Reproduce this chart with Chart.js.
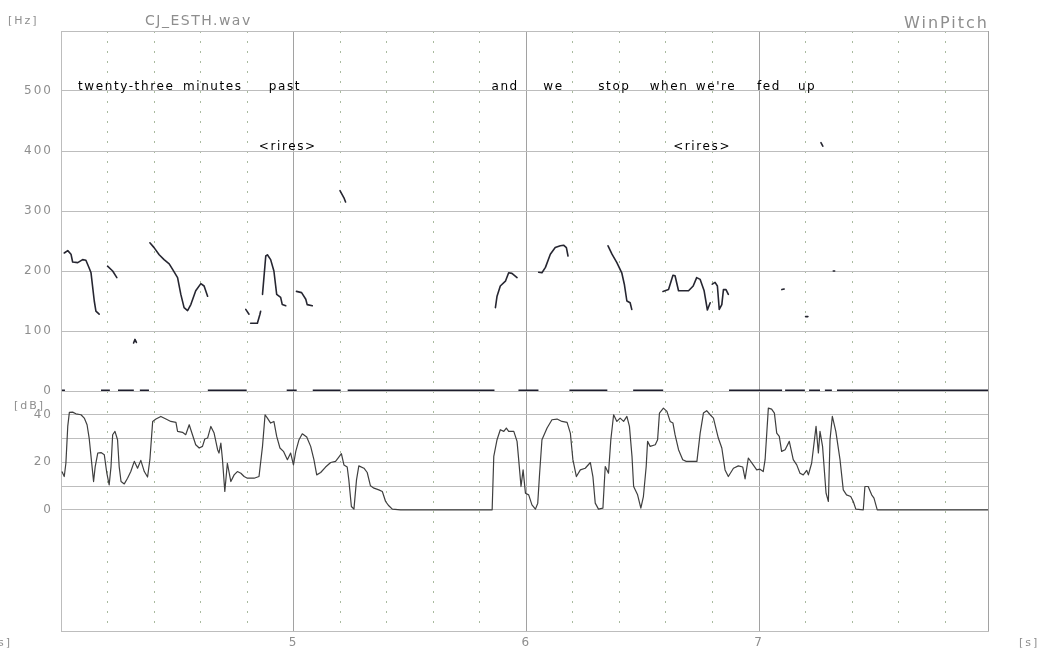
<!DOCTYPE html>
<html>
<head>
<meta charset="utf-8">
<title>CJ_ESTH.wav - WinPitch</title>
<script src="https://cdn.jsdelivr.net/npm/chart.js@4.4.1/dist/chart.umd.min.js"></script>
<style>
  html, body { margin: 0; padding: 0; background: #fff; }
  #wrap { width: 1037px; height: 650px; }
</style>
</head>
<body>
<div id="wrap"><canvas id="chart" width="1037" height="650"></canvas></div>
<script>
/* WinPitch view of CJ_ESTH.wav: F0 (Hz) above, intensity (dB) below */

// time axis (s)
const xMin = 4.0;
const xMax = 7.984;
const xGridTicks = [4, 4.2, 4.4, 4.6, 4.8, 5, 5.2, 5.4, 5.6, 5.8, 6, 6.2, 6.4, 6.6, 6.8, 7, 7.2, 7.4, 7.6, 7.8];
const xLabelTicks = [5, 6, 7];

// pitch axis
const hzGridTicks = [0, 50, 100, 150, 200, 250, 300, 350, 400, 450, 500, 550, 600];
const hzLabelTicks = [0, 100, 200, 300, 400, 500];

// intensity axis
const dbGridTicks = [0, 10, 20, 30, 40];
const dbLabelTicks = [0, 20, 40];

// F0 contour, null = break between voiced stretches
const pitchT = [
  4.014, 4.029, 4.043, 4.050, 4.072, 4.093, 4.107, 4.121, 4.129, 4.143, 4.150, 4.164, null,
  4.200, 4.222, 4.240, null,
  4.312, 4.318, 4.324, null,
  4.382, 4.400, 4.422, 4.443, 4.465, 4.479, 4.501, 4.515, 4.529, 4.544, 4.558, 4.579, 4.601, 4.615, 4.630, null,
  4.794, 4.808, null,
  4.815, 4.844, 4.855, 4.858, null,
  4.866, 4.880, 4.887, 4.901, 4.915, 4.927, 4.944, 4.951, 4.966, null,
  5.012, 5.034, 5.052, 5.058, 5.080, null,
  5.199, 5.216, 5.223, null,
  5.867, 5.874, 5.888, 5.910, 5.924, 5.938, 5.960, null,
  6.053, 6.067, 6.082, 6.103, 6.124, 6.146, 6.160, 6.172, 6.179, null,
  6.351, 6.368, 6.389, 6.410, 6.421, 6.432, 6.446, 6.453, null,
  6.587, 6.611, 6.630, 6.639, 6.654, 6.697, 6.717, 6.732, 6.747, 6.764, 6.778, 6.790, null,
  6.799, 6.811, 6.821, 6.829, 6.840, 6.847, 6.858, 6.868, null,
  7.098, 7.108, null,
  7.200, 7.210, null,
  7.266, 7.274, null,
  7.319, 7.325
];
const pitchHz = [
  230, 234, 228, 215, 214, 219, 218, 205, 197, 150, 133, 128, null,
  208, 200, 189, null,
  80, 86, 81, null,
  247, 239, 227, 219, 212, 203, 189, 161, 139, 134, 144, 167, 179, 175, 158, null,
  136, 128, null,
  113, 113, 128, 133, null,
  161, 225, 227, 219, 200, 161, 156, 144, 142, null,
  166, 164, 153, 144, 142, null,
  334, 322, 315, null,
  139, 158, 175, 183, 197, 196, 189, null,
  198, 197, 206, 228, 239, 242, 243, 239, 225, null,
  242, 228, 214, 197, 178, 150, 147, 136, null,
  166, 169, 193, 192, 167, 167, 175, 189, 186, 167, 135, 147, null,
  178, 181, 175, 136, 144, 169, 169, 161, null,
  169, 170, null,
  124, 124, null,
  414, 408, null,
  200, 200
];

// unvoiced stretches drawn on the 0 Hz line
const zeroStart = [4.004, 4.172, 4.245, 4.339, 4.631, 4.970, 5.082, 5.232, 5.966, 6.185, 6.459, 6.871, 7.112, 7.215, 7.283, 7.335];
const zeroEnd   = [4.017, 4.210, 4.313, 4.378, 4.798, 5.013, 5.202, 5.863, 6.052, 6.348, 6.588, 7.099, 7.197, 7.262, 7.313, 7.984];

// intensity curve
const dbT = [
  4.004, 4.014, 4.021, 4.029, 4.036, 4.050, 4.064, 4.086, 4.100, 4.112, 4.121, 4.129, 4.140, 4.147, 4.158, 4.172,
  4.186, 4.197, 4.207, 4.215, 4.222, 4.232, 4.243, 4.250, 4.258, 4.272, 4.286, 4.300, 4.315, 4.329, 4.343, 4.358,
  4.372, 4.382, 4.394, 4.408, 4.429, 4.451, 4.472, 4.494, 4.501, 4.522, 4.536, 4.551, 4.565, 4.579, 4.594, 4.608,
  4.618, 4.630, 4.644, 4.658, 4.673, 4.679, 4.687, 4.694, 4.704, 4.715, 4.730, 4.744, 4.758, 4.773, 4.787, 4.801,
  4.830, 4.851, 4.866, 4.877, 4.887, 4.901, 4.915, 4.927, 4.941, 4.956, 4.973, 4.987, 4.999, 5.009, 5.023, 5.037,
  5.056, 5.073, 5.087, 5.099, 5.116, 5.137, 5.159, 5.180, 5.194, 5.205, 5.216, 5.230, 5.237, 5.248, 5.259, 5.270,
  5.280, 5.302, 5.316, 5.330, 5.345, 5.366, 5.381, 5.395, 5.409, 5.424, 5.459,
  5.853, 5.860, 5.874, 5.888, 5.903, 5.914, 5.924, 5.946, 5.960, 5.967, 5.977, 5.986, 5.996, 6.010, 6.024, 6.039,
  6.049, 6.057, 6.067, 6.089, 6.110, 6.132, 6.153, 6.175, 6.189, 6.200, 6.215, 6.232, 6.253, 6.275, 6.286, 6.296,
  6.310, 6.329, 6.339, 6.353, 6.363, 6.375, 6.389, 6.403, 6.418, 6.432, 6.443, 6.454, 6.461, 6.478, 6.492, 6.503,
  6.515, 6.521, 6.532, 6.554, 6.564, 6.572, 6.589, 6.604, 6.618, 6.630, 6.639, 6.654, 6.672, 6.687, 6.711, 6.733,
  6.747, 6.761, 6.775, 6.790, 6.804, 6.825, 6.840, 6.854, 6.868,
  6.890, 6.911, 6.930, 6.940, 6.954, 6.975, 6.990, 7.004, 7.018, 7.026, 7.040, 7.054, 7.066, 7.076, 7.087, 7.097,
  7.112, 7.130, 7.147, 7.162, 7.176, 7.190, 7.205, 7.212, 7.226, 7.245, 7.255, 7.262, 7.273, 7.288, 7.298, 7.305,
  7.315, 7.330, 7.348, 7.362, 7.376, 7.394, 7.405, 7.416, 7.448, 7.455, 7.469, 7.484, 7.494, 7.508, 7.984
];
const dbVal = [
  16.1, 14.0, 19.6, 35.1, 41.0, 41.1, 40.4, 40.0, 38.6, 35.8, 30.2, 22.5, 11.9, 18.2, 23.9, 24.1,
  23.2, 15.4, 10.5, 18.2, 31.6, 33.0, 29.5, 18.2, 11.9, 10.9, 13.3, 16.1, 20.4, 17.5, 20.8, 16.1,
  13.8, 21.1, 37.2, 38.2, 39.3, 38.2, 37.2, 36.8, 33.0, 32.6, 31.6, 35.8, 31.6, 27.4, 26.0, 26.7,
  29.8, 30.2, 35.1, 32.3, 25.3, 23.9, 28.1, 21.1, 7.7, 19.6, 11.9, 14.7, 16.1, 15.4, 14.0, 13.3,
  13.3, 14.0, 26.7, 40.0, 38.6, 36.5, 37.2, 30.9, 26.0, 24.6, 21.1, 23.9, 18.9, 24.6, 29.5, 32.0,
  30.6, 26.7, 21.1, 14.7, 15.7, 18.0, 19.9, 20.4, 22.2, 23.6, 18.9, 18.0, 12.6, 1.4, 0.3, 12.6,
  18.5, 17.5, 15.7, 10.1, 9.1, 8.4, 7.7, 3.5, 1.7, 0.3, 0,
  0, 22.5, 29.5, 33.7, 33.0, 34.4, 33.0, 33.0, 28.8, 21.1, 9.8, 16.8, 7.0, 6.3, 2.1, 0.3,
  2.8, 15.4, 29.5, 34.4, 37.9, 38.2, 37.2, 36.8, 32.3, 21.1, 14.0, 16.8, 17.5, 19.9, 14.0, 2.8,
  0.3, 0.7, 18.2, 15.4, 29.5, 40.0, 37.2, 38.6, 37.2, 39.3, 35.1, 22.5, 9.8, 6.3, 0.7, 5.6,
  18.2, 28.8, 26.7, 27.4, 29.5, 40.7, 42.8, 41.4, 37.2, 36.5, 31.6, 25.3, 21.1, 20.4, 20.4, 20.4,
  32.3, 40.7, 41.7, 40.0, 38.6, 30.2, 26.0, 16.8, 14.0,
  17.5, 18.5, 18.0, 13.0, 21.8, 18.9, 16.8, 17.1, 16.1, 21.1, 42.8, 42.4, 40.7, 32.3, 30.9, 24.6,
  25.3, 28.8, 21.1, 18.9, 15.4, 14.7, 16.6, 14.7, 19.6, 35.1, 23.9, 33.0, 26.7, 7.0, 3.5, 29.5,
  39.3, 33.0, 21.1, 8.4, 6.3, 5.6, 3.5, 0.3, 0, 9.8, 9.8, 6.3, 4.9, 0, 0
];

// transcription
const words = ["twenty-three", "minutes", "past", "and", "we", "stop", "when", "we're", "fed", "up"];
const wordStart = [4.073, 4.524, 4.893, 5.850, 6.073, 6.309, 6.530, 6.728, 6.991, 7.167];
const noteText = ["<rires>", "<rires>"];
const noteStart = [4.850, 6.631];

const GRID = "#bdbdbd";
const MAJOR = "#a2a2a2";
const DOTS = "#a9bb9f";
const LABEL = "#8e8e8e";
const FONT = "'DejaVu Sans', sans-serif";

function pitchPoints() {
  return pitchT.map((t, i) => ({ x: t === null ? pitchT[i - 1] : t, y: pitchHz[i] }));
}

function zeroPoints() {
  const pts = [];
  zeroStart.forEach((s, i) => {
    pts.push({ x: s, y: 0 }, { x: zeroEnd[i], y: 0 }, { x: zeroEnd[i], y: null });
  });
  return pts;
}

function setTicks(list) {
  return (scale) => { scale.ticks = list.map((v) => ({ value: v })); };
}

const isMajorX = (v) => v === xMin || xLabelTicks.includes(v) || v === xMax;

const textPlugin = {
  id: "winpitchText",
  beforeDraw(chart) {
    chart.ctx.letterSpacing = "2px";
  },
  afterDraw(chart) {
    const { ctx, scales } = chart;
    const sx = scales.x, hz = scales.yHz;
    ctx.save();
    ctx.textBaseline = "alphabetic";

    // transcription line + laughter notes
    ctx.fillStyle = "#000";
    ctx.font = "12px " + FONT;
    ctx.letterSpacing = "1.6px";
    ctx.textAlign = "left";
    words.forEach((w, i) => ctx.fillText(w, sx.getPixelForValue(wordStart[i]), hz.getPixelForValue(502)));
    noteText.forEach((w, i) => ctx.fillText(w, sx.getPixelForValue(noteStart[i]), hz.getPixelForValue(402)));

    // frame titles
    ctx.fillStyle = LABEL;
    ctx.letterSpacing = "2px";
    ctx.font = "11px " + FONT;
    ctx.fillText("[Hz]", 8, 24);
    ctx.fillText("[dB]", 14, 409);
    ctx.textAlign = "right";
    ctx.fillText("[s]", 12, 646);
    ctx.textAlign = "left";
    ctx.fillText("[s]", 1019, 646);
    ctx.font = "14px " + FONT;
    ctx.letterSpacing = "1.5px";
    ctx.fillText("CJ_ESTH.wav", 145, 25);
    ctx.font = "16px " + FONT;
    ctx.letterSpacing = "2px";
    ctx.textAlign = "right";
    ctx.fillText("WinPitch", 989, 28);
    ctx.restore();
  },
};

new Chart(document.getElementById("chart"), {
  type: "line",
  data: {
    datasets: [
      {
        label: "F0 (Hz)",
        data: pitchPoints(),
        yAxisID: "yHz",
        borderColor: "#262631",
        borderWidth: 1.6,
        pointRadius: 0,
        spanGaps: false,
        borderJoinStyle: "round",
        borderCapStyle: "round",
      },
      {
        label: "unvoiced",
        data: zeroPoints(),
        yAxisID: "yHz",
        borderColor: "#1c1c2c",
        borderWidth: 3,
        pointRadius: 0,
        spanGaps: false,
      },
      {
        label: "Intensity (dB)",
        data: dbT.map((t, i) => ({ x: t, y: dbVal[i] })),
        yAxisID: "yDb",
        borderColor: "#3f3f3f",
        borderWidth: 1.2,
        pointRadius: 0,
        borderJoinStyle: "round",
      },
    ],
  },
  options: {
    responsive: false,
    animation: false,
    events: [],
    layout: { padding: { top: 31, right: 49, left: 0, bottom: 0 } },
    plugins: { legend: { display: false }, tooltip: { enabled: false } },
    scales: {
      x: {
        type: "linear",
        min: xMin,
        max: xMax,
        afterBuildTicks: setTicks([...xGridTicks, xMax]),
        afterFit: (s) => { s.height = 19; },
        grid: {
          drawTicks: false,
          lineWidth: 1,
          color: (c) => (c.tick && isMajorX(c.tick.value) ? MAJOR : DOTS),
        },
        border: {
          color: GRID,
          dash: (c) => (c.tick && !isMajorX(c.tick.value) ? [2, 8] : []),
        },
        ticks: {
          autoSkip: false,
          maxRotation: 0,
          padding: 5,
          color: LABEL,
          font: { family: FONT, size: 12 },
          callback: (v) => (xLabelTicks.includes(v) ? String(v) : ""),
        },
      },
      yDb: {
        type: "linear",
        position: "left",
        stack: "panels",
        stackWeight: 2,
        min: -51,
        max: 50,
        afterBuildTicks: setTicks(dbGridTicks),
        afterFit: (s) => { s.width = 61; },
        grid: { drawTicks: false, color: GRID, lineWidth: 1 },
        border: { color: GRID },
        ticks: {
          padding: 8,
          color: LABEL,
          font: { family: FONT, size: 12 },
          callback: (v) => (dbLabelTicks.includes(v) ? String(v) : ""),
        },
      },
      yHz: {
        type: "linear",
        position: "left",
        stack: "panels",
        stackWeight: 3,
        min: 0,
        max: 600,
        afterBuildTicks: setTicks(hzGridTicks),
        afterFit: (s) => { s.width = 61; },
        grid: {
          drawTicks: false,
          lineWidth: 1,
          color: (c) => (c.tick && c.tick.value % 100 === 0 ? GRID : DOTS),
        },
        border: {
          color: GRID,
          dash: (c) => (c.tick && c.tick.value % 100 !== 0 ? [2, 8] : []),
        },
        ticks: {
          padding: 8,
          color: LABEL,
          font: { family: FONT, size: 12 },
          callback: (v) => (hzLabelTicks.includes(v) ? String(v) : ""),
        },
      },
    },
  },
  plugins: [textPlugin],
});
</script>
</body>
</html>
